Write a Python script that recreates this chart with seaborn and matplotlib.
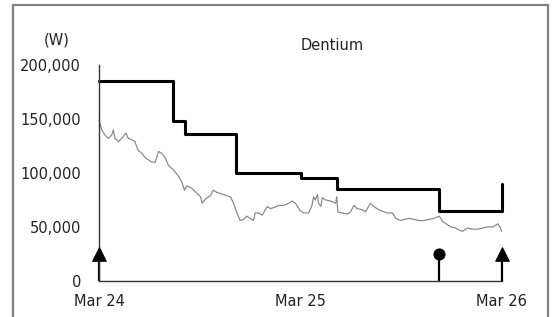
import matplotlib
matplotlib.use('Agg')
import matplotlib.pyplot as plt
from matplotlib.patches import Rectangle
import seaborn as sns
import pandas as pd

# share price (won)
price_dates = [
    '2024-03-15', '2024-03-20', '2024-03-26', '2024-04-01', '2024-04-07', '2024-04-10',
    '2024-04-13', '2024-04-19', '2024-04-25', '2024-05-03', '2024-05-07', '2024-05-13',
    '2024-05-19', '2024-05-25', '2024-06-01', '2024-06-07', '2024-06-13', '2024-06-19',
    '2024-06-25', '2024-07-01', '2024-07-07', '2024-07-13', '2024-07-19', '2024-07-28',
    '2024-08-06', '2024-08-12', '2024-08-17', '2024-08-21', '2024-08-30', '2024-09-05',
    '2024-09-15', '2024-09-18', '2024-09-24', '2024-09-27', '2024-10-03', '2024-10-08',
    '2024-10-15', '2024-10-21', '2024-10-27', '2024-11-02', '2024-11-08', '2024-11-14',
    '2024-11-20', '2024-11-26', '2024-12-02', '2024-12-08', '2024-12-14', '2024-12-20',
    '2024-12-23', '2024-12-29', '2025-01-05', '2025-01-14', '2025-01-20', '2025-01-26',
    '2025-02-04', '2025-02-13', '2025-02-22', '2025-02-28', '2025-03-06', '2025-03-15',
    '2025-03-21', '2025-03-30', '2025-04-05', '2025-04-08', '2025-04-11', '2025-04-15',
    '2025-04-17', '2025-04-21', '2025-04-24', '2025-04-30', '2025-05-09', '2025-05-18',
    '2025-05-20', '2025-05-22', '2025-05-30', '2025-06-08', '2025-06-14', '2025-06-20',
    '2025-06-26', '2025-07-05', '2025-07-11', '2025-07-20', '2025-07-26', '2025-08-04',
    '2025-08-14', '2025-08-20', '2025-08-29', '2025-09-04', '2025-09-13', '2025-09-19',
    '2025-09-28', '2025-10-07', '2025-10-16', '2025-10-25', '2025-11-03', '2025-11-12',
    '2025-11-22', '2025-11-28', '2025-12-07', '2025-12-13', '2025-12-22', '2025-12-28',
    '2026-01-03', '2026-01-12', '2026-01-21', '2026-01-30', '2026-02-08', '2026-02-17',
    '2026-02-27', '2026-03-08', '2026-03-12', '2026-03-15',
]
price_values = [
    149000, 140000, 135000, 132000, 135000, 140000,
    132000, 129000, 132000, 137000, 132000, 131000,
    129000, 121000, 118000, 114000, 112000, 110000,
    110000, 120000, 118000, 114000, 107000, 103000,
    97000, 92000, 84000, 88000, 86000, 83000,
    78000, 72000, 76000, 77000, 79000, 84000,
    82000, 81000, 80000, 79000, 78000, 72000,
    63000, 56000, 57000, 60000, 58000, 56000,
    63000, 63000, 61000, 69000, 67000, 68000,
    70000, 70000, 72000, 74000, 72000, 65000,
    63000, 63000, 70000, 78000, 75000, 80000,
    72000, 69000, 77000, 75000, 74000, 72000,
    78000, 64000, 63000, 62000, 64000, 70000,
    67000, 66000, 64000, 72000, 69000, 66000,
    64000, 63000, 63000, 58000, 56000, 57000,
    58000, 57000, 56000, 56000, 57000, 58000,
    60000, 55000, 52000, 50000, 49000, 47000,
    46000, 49000, 48000, 48000, 49000, 50000,
    50000, 53000, 50000, 46000,
]

# target price changes
target_dates = ['2024-03-15', '2024-07-28', '2024-08-18', '2024-11-18',
                '2025-03-16', '2025-05-20', '2025-11-22', '2026-03-15']
target_values = [185000, 148000, 136000, 100000, 95000, 85000, 65000, 90000]

# rating signals
signal_dates = ['2024-03-15', '2025-11-22', '2026-03-15']
signal_kinds = ['up', 'hold', 'up']
signal_level = 25000

tick_dates = ['2024-03-15', '2025-03-15', '2026-03-15']
tick_labels = ['Mar 24', 'Mar 25', 'Mar 26']
y_ticks = [0, 50000, 100000, 150000, 200000]

price = pd.DataFrame({'date': pd.to_datetime(price_dates), 'value': price_values})
target = pd.DataFrame({'date': pd.to_datetime(target_dates), 'value': target_values})
signals = pd.DataFrame({'date': pd.to_datetime(signal_dates), 'kind': signal_kinds})

sns.set_theme(style='white')
plt.rcParams['font.family'] = ['DejaVu Sans']

W, H = 552, 317
fig = plt.figure(figsize=(W / 100, H / 100), dpi=100)
ax = fig.add_axes([99 / W, 1 - 281 / H, (501.7 - 99) / W, (281 - 65) / H])
ax.set_facecolor('none')

sns.lineplot(data=price, x='date', y='value', ax=ax, color='#858585', lw=0.85)
sns.lineplot(data=target, x='date', y='value', ax=ax, color='black', lw=2.2,
             drawstyle='steps-post')
for line in ax.lines:
    line.set_clip_on(False)

ax.vlines(signals['date'], 0, signal_level, color='black', lw=1.6, clip_on=False)
ups = signals[signals['kind'] == 'up']
holds = signals[signals['kind'] == 'hold']
sns.scatterplot(x=ups['date'], y=[signal_level] * len(ups), ax=ax, marker='^',
                s=95, color='black', edgecolor='black', zorder=5, clip_on=False)
sns.scatterplot(x=holds['date'], y=[signal_level] * len(holds), ax=ax, marker='o',
                s=65, color='black', edgecolor='black', zorder=5, clip_on=False)

ax.set_xlim(pd.Timestamp(tick_dates[0]), pd.Timestamp(tick_dates[-1]))
ax.set_ylim(0, 200000)
ax.set_xticks(pd.to_datetime(tick_dates))
ax.set_xticklabels(tick_labels)
ax.set_yticks(y_ticks)
ax.set_yticklabels([f'{v:,}' for v in y_ticks])
ax.set_xlabel('')
ax.set_ylabel('')

for side in ['top', 'right']:
    ax.spines[side].set_visible(False)
for side in ['left', 'bottom']:
    ax.spines[side].set_color('#333333')
    ax.spines[side].set_linewidth(1.0)
ax.tick_params(axis='both', direction='in', length=3.5, width=0.9, color='#333333',
               labelsize=10.5, labelcolor='#222222')
ax.tick_params(axis='y', pad=13)
ax.tick_params(axis='x', pad=9)

fig.text(332 / W, 1 - 46 / H, 'Dentium', ha='center', va='center', fontsize=10.5, color='#222222')
fig.text(57 / W, 1 - 40 / H, '(W)', ha='center', va='center', fontsize=10.5, color='#222222')

fig.add_artist(Rectangle((13 / W, -0.05), (548 - 13) / W, 1 - 5 / H + 0.05,
                         transform=fig.transFigure, fill=False, ec='#808080', lw=1.6))

fig.savefig('out.png', dpi=100)
